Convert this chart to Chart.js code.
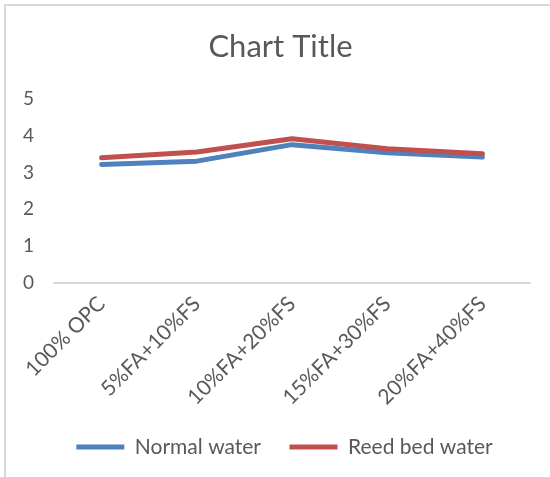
<!DOCTYPE html>
<html>
<head>
<meta charset="utf-8">
<script src="https://cdn.jsdelivr.net/npm/chart.js@4"></script>
<style>
  html, body { margin: 0; padding: 0; width: 550px; height: 477px; overflow: hidden; background: #fff; }
  #box { position: absolute; left: 4px; top: 4px; width: 600px; height: 520px;
         border-top: 2px solid #d9d9d9; border-left: 2px solid #d9d9d9; }
  #wrap { position: absolute; left: 0; top: 0; width: 560px; height: 471px; }
</style>
</head>
<body>
<div id="box"><div id="wrap"><canvas id="c"></canvas></div></div>
<script>
const categories = ["100% OPC", "5%FA+10%FS", "10%FA+20%FS", "15%FA+30%FS", "20%FA+40%FS"];
const normalWater = [3.22, 3.31, 3.76, 3.54, 3.42];
const reedBedWater = [3.40, 3.56, 3.92, 3.65, 3.51];
const yTicks = [0, 1, 2, 3, 4, 5];

const FONT = "Lato, 'Open Sans', sans-serif";
const GREY = "#595959";

// nudge title and legend to be centred on the (wider) chart box, as in the reference
const centreShift = {
  id: "centreShift",
  afterLayout(chart) {
    if (chart.legend) { chart.legend.left += 8; chart.legend.right += 8; }
    if (chart.titleBlock) { chart.titleBlock.left += 4; chart.titleBlock.right += 4; }
  }
};

new Chart(document.getElementById("c"), {
  type: "line",
  data: {
    labels: categories,
    datasets: [
      { label: "Normal water", data: normalWater, borderColor: "#4F81BD", backgroundColor: "#4F81BD",
        borderWidth: 5, pointRadius: 0, pointHoverRadius: 0, tension: 0, order: 1,
        borderCapStyle: "round", borderJoinStyle: "round" },
      { label: "Reed bed water", data: reedBedWater, borderColor: "#C0504D", backgroundColor: "#C0504D",
        borderWidth: 5, pointRadius: 0, pointHoverRadius: 0, tension: 0, order: 0,
        borderCapStyle: "round", borderJoinStyle: "round" }
    ]
  },
  plugins: [centreShift],
  options: {
    responsive: true,
    maintainAspectRatio: false,
    animation: false,
    layout: { padding: { left: 17, right: 36, top: 0, bottom: 9.5 } },
    plugins: {
      tooltip: { enabled: false },
      title: {
        display: true, text: "Chart Title", color: GREY,
        font: { family: FONT, size: 31, weight: "400" },
        padding: { top: 22, bottom: 34 }
      },
      legend: {
        position: "bottom",
        labels: {
          color: GREY, font: { family: FONT, size: 21 },
          boxWidth: 48, boxHeight: 5, padding: 28.5,
          sort: (a, b) => a.datasetIndex - b.datasetIndex,
          generateLabels: (chart) => chart.data.datasets.map((d, i) => ({
            text: d.label, fillStyle: d.borderColor, strokeStyle: d.borderColor,
            lineWidth: 0, datasetIndex: i, hidden: false, fontColor: GREY
          }))
        }
      }
    },
    scales: {
      x: {
        offset: true,
        grid: { display: false, drawTicks: false },
        border: { display: true, color: "#d9d9d9", width: 2 },
        ticks: { color: GREY, font: { family: FONT, size: 21 }, maxRotation: 45, minRotation: 45, padding: 9 },
        afterFit: (s) => { s.height = 125.5; }
      },
      y: {
        min: 0, max: 5,
        grid: { display: false, drawTicks: false },
        border: { display: false },
        afterBuildTicks: (s) => { s.ticks = yTicks.map(v => ({ value: v })); },
        ticks: { color: GREY, font: { family: FONT, size: 19 }, padding: 20, crossAlign: "far" },
        afterFit: (s) => { s.width = 31; }
      }
    }
  }
});
</script>
</body>
</html>
